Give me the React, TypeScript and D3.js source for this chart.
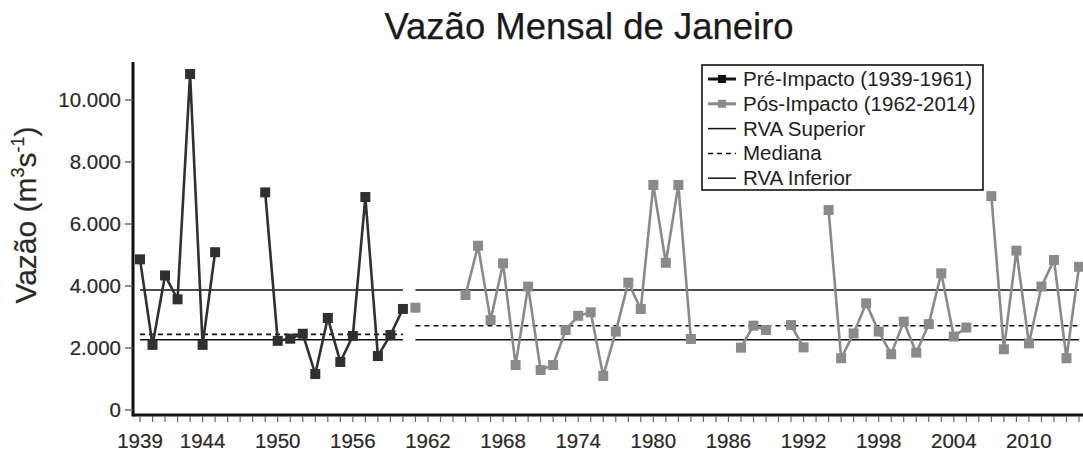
import React from "react";
import * as d3 from "d3";

// ---------- data ----------
const preYears = d3.range(1939, 1961); // 1939..1960
const preValues: (number | null)[] = [
  4860, 2100, 4340, 3570, 10840, 2100, 5090, null, null, null,
  7020, 2230, 2300, 2460, 1160, 2970, 1550, 2390, 6870, 1740, 2420, 3260,
];
const postYears = d3.range(1961, 2015); // 1961..2014
const postValues: (number | null)[] = [
  3300, null, null, null, 3710, 5300, 2900, 4730, 1450, 3980,
  1290, 1450, 2580, 3040, 3150, 1100, 2530, 4110, 3260, 7260,
  4750, 7260, 2290, null, null, null, 2010, 2720, 2580, null,
  2740, 2020, null, 6450, 1670, 2470, 3440, 2530, 1800, 2850,
  1850, 2770, 4410, 2370, 2660, null, 6900, 1960, 5140, 2150,
  3980, 4840, 1670, 4620,
];
// [RVA Superior, Mediana, RVA Inferior]
const preRef = [3870, 2440, 2265];
const postRef = [3870, 2720, 2265];
const xTickYears = [1939, 1944, 1950, 1956, 1962, 1968, 1974, 1980, 1986, 1992, 1998, 2004, 2010];
const yTickValues = [0, 2000, 4000, 6000, 8000, 10000];
const legendLabels = [
  "Pré-Impacto (1939-1961)",
  "Pós-Impacto (1962-2014)",
  "RVA Superior",
  "Mediana",
  "RVA Inferior",
];
const title = "Vazão Mensal de Janeiro";

// ---------- layout ----------
const W = 1083;
const H = 456;
const FONT = "'Liberation Sans', Arial, Helvetica, sans-serif";
const PRE_COLOR = "#303030";
const POST_COLOR = "#8a8a8a";
const axisX = 133;
const axisBottom = 415;
const axisTop = 62;

const x = d3.scaleLinear().domain([1939, 2014]).range([140, 1079]);
const y = d3.scaleLinear().domain([0, 10000]).range([410, 100]);
const fmt = d3.formatLocale({ decimal: ",", thousands: ".", grouping: [3], currency: ["", ""] }).format(",");

type P = { year: number; v: number | null };
const preData: P[] = preYears.map((yr, i) => ({ year: yr, v: preValues[i] }));
const postData: P[] = postYears.map((yr, i) => ({ year: yr, v: postValues[i] }));

const line = d3
  .line<P>()
  .defined((d) => d.v !== null)
  .x((d) => x(d.year))
  .y((d) => y(d.v as number));

const allYears = d3.range(1939, 2015);

export default function App() {
  const legX = 702;
  const legY = 65;
  const legW = 281;
  const legH = 125;
  const rowY = (i: number) => 79 + i * 24.8;
  const refDash = ["", "5,4", ""];
  return (
    <svg
      width={W}
      height={H}
      style={{ position: "fixed", left: 0, top: 0, background: "#fff" }}
      fontFamily={FONT}
    >
      <rect x={0} y={0} width={W} height={H} fill="#fff" />
      {/* title */}
      <text x={589} y={39} fontSize={36.5} textAnchor="middle" fill="#1a1a1a" stroke="#1a1a1a" strokeWidth={0.25}>
        {title}
      </text>

      {/* y label */}
      <text
        transform="translate(36,215) rotate(-90)"
        fontSize={30}
        textAnchor="middle"
        fill="#2a2a2a"
        stroke="#2a2a2a"
        strokeWidth={0.2}
      >
        Vazão (m
        <tspan fontSize={18} dy={-12}>3</tspan>
        <tspan dy={12}>s</tspan>
        <tspan fontSize={18} dy={-12}>-1</tspan>
        <tspan dy={12}>)</tspan>
      </text>

      {/* reference lines */}
      {preRef.map((v, i) => (
        <line
          key={"pr" + i}
          x1={x(1939)}
          x2={x(1960)}
          y1={y(v)}
          y2={y(v)}
          stroke="#111"
          strokeWidth={1.6}
          strokeDasharray={refDash[i]}
        />
      ))}
      {postRef.map((v, i) => (
        <line
          key={"po" + i}
          x1={x(1961)}
          x2={x(2014)}
          y1={y(v)}
          y2={y(v)}
          stroke="#111"
          strokeWidth={1.6}
          strokeDasharray={refDash[i]}
        />
      ))}

      {/* series lines */}
      <path d={line(preData) || ""} fill="none" stroke={PRE_COLOR} strokeWidth={2.6} strokeLinejoin="miter" />
      <path d={line(postData) || ""} fill="none" stroke={POST_COLOR} strokeWidth={2.6} strokeLinejoin="miter" />
      {preData
        .filter((d) => d.v !== null)
        .map((d) => (
          <rect key={"pm" + d.year} x={x(d.year) - 5} y={y(d.v as number) - 5} width={10} height={10} fill={PRE_COLOR} />
        ))}
      {postData
        .filter((d) => d.v !== null)
        .map((d) => (
          <rect key={"qm" + d.year} x={x(d.year) - 5} y={y(d.v as number) - 5} width={10} height={10} fill={POST_COLOR} />
        ))}

      {/* axes */}
      <line x1={axisX} x2={axisX} y1={axisTop} y2={axisBottom + 1.5} stroke="#111" strokeWidth={3} />
      <line x1={axisX} x2={W} y1={axisBottom} y2={axisBottom} stroke="#111" strokeWidth={3} />
      {yTickValues.map((v) => (
        <g key={"yt" + v}>
          <line x1={axisX - 8} x2={axisX} y1={y(v)} y2={y(v)} stroke="#555" strokeWidth={1.3} />
          <text x={axisX - 12} y={y(v) + 7} fontSize={20.5} textAnchor="end" fill="#2a2a2a" stroke="#2a2a2a" strokeWidth={0.2}>
            {fmt(v)}
          </text>
        </g>
      ))}
      {allYears.map((yr) => (
        <line key={"xt" + yr} x1={x(yr)} x2={x(yr)} y1={axisBottom + 1} y2={axisBottom + 7} stroke="#666" strokeWidth={1.2} />
      ))}
      {xTickYears.map((yr) => (
        <text key={"xl" + yr} x={x(yr)} y={448} fontSize={20.5} textAnchor="middle" fill="#2a2a2a" stroke="#2a2a2a" strokeWidth={0.2}>
          {yr}
        </text>
      ))}

      {/* legend */}
      <rect x={legX} y={legY} width={legW} height={legH} fill="#fff" stroke="#111" strokeWidth={1.6} />
      {legendLabels.map((lab, i) => {
        const cy = rowY(i);
        const isSeries = i < 2;
        const col = i === 0 ? "#111" : i === 1 ? POST_COLOR : "#111";
        return (
          <g key={"lg" + i}>
            <line
              x1={708}
              x2={736}
              y1={cy}
              y2={cy}
              stroke={col}
              strokeWidth={isSeries ? 3 : 1.5}
              strokeDasharray={i === 3 ? "5,4" : ""}
            />
            {isSeries && <rect x={718} y={cy - 4} width={8} height={8} fill={col} />}
            <text x={743} y={cy + 7} fontSize={20.5} fill="#222">
              {lab}
            </text>
          </g>
        );
      })}
    </svg>
  );
}
